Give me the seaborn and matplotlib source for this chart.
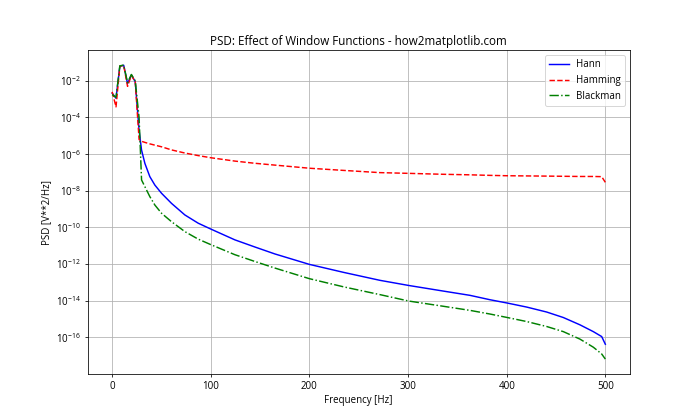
import matplotlib
matplotlib.use("Agg")
import matplotlib.pyplot as plt
import matplotlib.ticker as mticker
import seaborn as sns
import numpy as np
import pandas as pd

freqs = [0, 3.9, 7.8, 11.7, 15.6, 19.5, 23.4, 27.3, 29.8, 33.2, 38.2, 43.3,
         50.1, 60.2, 73.7, 87.2, 100.4, 124.4, 144.7, 165, 200, 235, 271.5,
         300.6, 335, 362.8, 383.1, 400.6, 420.3, 440.5, 457.4, 474.3, 487.8,
         496.3, 500]

# PSD, as log10 of V**2/Hz
hann_log10 = [-2.67, -2.95, -1.2, -1.15, -2.15, -1.68, -2.05, -4.7, -5.78,
              -6.51, -7.23, -7.69, -8.14, -8.69, -9.32, -9.77, -10.10, -10.68,
              -11.07, -11.45, -12.02, -12.46, -12.89, -13.17, -13.47, -13.71,
              -13.95, -14.13, -14.35, -14.62, -14.92, -15.32, -15.69, -15.96,
              -16.38]
hamming_log10 = [-2.6, -3.42, -1.2, -1.15, -2.3, -1.7, -2.05, -5.2, -5.3,
                 -5.36, -5.44, -5.51, -5.6, -5.77, -5.94, -6.08, -6.20, -6.38,
                 -6.50, -6.60, -6.77, -6.89, -7.01, -7.05, -7.10, -7.13,
                 -7.16, -7.18, -7.19, -7.20, -7.21, -7.22, -7.22, -7.23, -7.54]
blackman_log10 = [-2.75, -2.9, -1.18, -1.14, -2.1, -1.65, -2.0, -4.0, -7.41,
                  -7.78, -8.32, -8.78, -9.23, -9.69, -10.23, -10.64, -10.95,
                  -11.49, -11.86, -12.22, -12.8, -13.25, -13.67, -14.02,
                  -14.30, -14.53, -14.73, -14.92, -15.14, -15.41, -15.69,
                  -16.10, -16.54, -16.91, -17.19]

series_names = ["Hann", "Hamming", "Blackman"]
ytick_exponents = [-16, -14, -12, -10, -8, -6, -4, -2]

plt.rcParams["font.family"] = ["Open Sans", "DejaVu Sans"]

fig, ax = plt.subplots(figsize=(10, 6), dpi=70)

styles = {"Hann": ("b", "-"), "Hamming": ("r", "--"), "Blackman": ("g", "-.")}
data = {"Hann": hann_log10, "Hamming": hamming_log10, "Blackman": blackman_log10}
for name in series_names:
    df = pd.DataFrame({"f": freqs, "psd": 10.0 ** np.asarray(data[name])})
    c, ls = styles[name]
    sns.lineplot(data=df, x="f", y="psd", ax=ax, color=c, linestyle=ls,
                 label=name, linewidth=1.5)

ax.set_yscale("log")
ax.yaxis.set_major_locator(mticker.FixedLocator([10.0 ** e for e in ytick_exponents]))
ax.yaxis.set_major_formatter(mticker.LogFormatterSciNotation())
ax.yaxis.set_minor_locator(mticker.NullLocator())
ax.set_title("PSD: Effect of Window Functions - how2matplotlib.com", fontsize=12)
ax.set_xlabel("Frequency [Hz]", fontsize=10)
ax.set_ylabel("PSD [V**2/Hz]", fontsize=10)
ax.grid(True, color="#b0b0b0", linewidth=0.8)
ax.legend(loc="upper right")
for s in ax.spines.values():
    s.set_color("black")
    s.set_linewidth(0.8)

fig.savefig("out.png", dpi=70)
